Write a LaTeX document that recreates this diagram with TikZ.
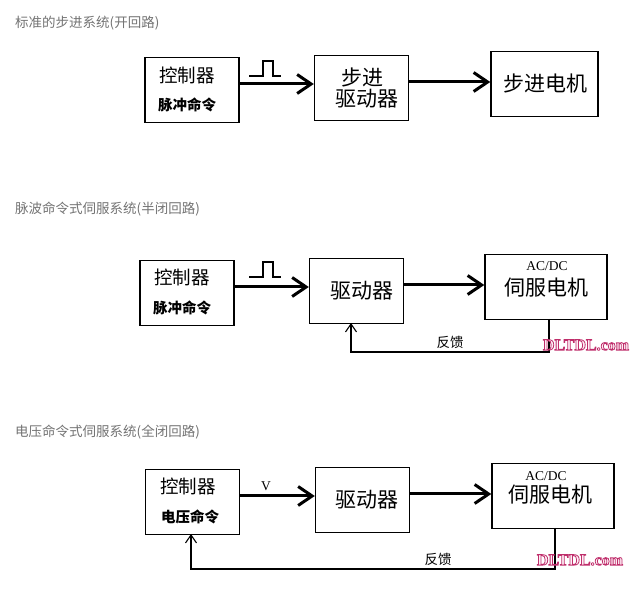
\documentclass[tikz,border=0pt]{standalone}
\usepackage{fontspec}
\usetikzlibrary{arrows.meta}
\setmainfont{Liberation Serif}
\newfontfamily\cjk{Noto Sans CJK SC}
\newcommand{\outlined}[1]{\special{pdf:literal direct 2 Tr 0.8 w 0.75 0.18 0.42 RG 1 0.93 0.96 rg}#1\special{pdf:literal direct 0 Tr 0 0 0 RG 0 0 0 rg}}
\tikzset{
box/.style={draw,line width=1.4pt,minimum width=94pt,minimum height=65pt,inner sep=0pt},
bigbox/.style={box,minimum width=122pt},
thick arrow/.style={line width=3pt,-{Straight Barb[length=14pt,width=19pt,line width=3pt]}},
thin arrow/.style={line width=1.1pt,-{Straight Barb[length=8pt,width=11pt,line width=1.1pt]}},
thinner arrow/.style={thin arrow,line width=1.5pt},
pulse/.style={line width=1.3pt},
title/.style={anchor=west,inner sep=0pt,text=black!55,font=\cjk\fontsize{13.5}{14}\selectfont},
big/.style={inner sep=0pt,font=\cjk\fontsize{21}{23}\selectfont},
mid/.style={inner sep=0pt,font=\cjk\fontsize{18.5}{20}\selectfont},
small/.style={inner sep=0pt,font=\cjk\bfseries\fontsize{14.5}{16}\selectfont},
tiny/.style={inner sep=0pt,font=\fontsize{13.5}{15}\selectfont},
fb/.style={inner sep=0pt,font=\cjk\fontsize{13.5}{15}\selectfont},
mark text/.style={inner sep=0pt,font=\bfseries\fontsize{16}{18}\selectfont}
}
\begin{document}
\begin{tikzpicture}[x=1pt,y=-1pt]
\useasboundingbox (0,0) rectangle (643,601);
\node[title] (titleA) at (15,23) {标准的步进系统(开回路)};
\node[title] (titleB) at (15,209) {脉波命令式伺服系统(半闭回路)};
\node[title] (titleC) at (15,432) {电压命令式伺服系统(全闭回路)};

% open loop
\node[box] (ctrlA) at (192,90) {};
\node[box] (drvA) at (361.5,88) {};
\node[box,minimum width=107pt] (motA) at (544.5,84) {};
\node[mid] (ctrlAa) at (187,75) {控制器};
\node[small] (ctrlAb) at (187,105) {脉冲命令};
\node[big] (drvAa) at (362,77) {步进};
\node[big] (drvAb) at (367,99) {驱动器};
\node[big] (motAa) at (545,84) {步进电机};
\coordinate (inA) at (ctrlA.east|-0,84);
\coordinate (inB) at (drvA.west|-0,84);
\draw[thick arrow] (inA)--(inB);
\coordinate (outA) at (drvA.east|-0,82);
\coordinate (outB) at (motA.west|-0,82);
\draw[thick arrow] (outA)--(outB);
\draw[pulse] (249,76)--(263,76)--(263,61)--(273,61)--(273,76)--(281,76);

% half closed loop
\node[box] (ctrlB) at (187,293) {};
\node[box] (drvB) at (356.5,291) {};
\node[bigbox] (motB) at (546,287) {};
\node[mid] (ctrlBa) at (182,277) {控制器};
\node[small] (ctrlBb) at (182,308) {脉冲命令};
\node[big] (drvBa) at (362,291) {驱动器};
\node[tiny] (motBa) at (547,266) {AC/DC};
\node[big] (motBb) at (546,288) {伺服电机};
\coordinate (inC) at (ctrlB.east|-0,287);
\coordinate (inD) at (drvB.west|-0,287);
\draw[thick arrow] (inC)--(inD);
\coordinate (outC) at (drvB.east|-0,285);
\coordinate (outD) at (motB.west|-0,285);
\draw[thick arrow] (outC)--(outD);
\draw[pulse] (249,277)--(263,277)--(263,262)--(273,262)--(273,277)--(281,277);
\coordinate (fbA) at (549,319);
\coordinate (fbB) at (351,323);
\draw[thin arrow] (fbA)--(549,352)--(351,352)--(fbB);
\node[fb] (fbLabelA) at (450,342) {反馈};
\node[mark text] (markA) at (586,345) {\outlined{DLTDL.com}};

% closed loop
\node[box] (ctrlC) at (192.5,502) {};
\node[box] (drvC) at (362.5,500) {};
\node[bigbox] (motC) at (553,496) {};
\node[mid] (ctrlCa) at (188,486) {控制器};
\node[small] (ctrlCb) at (190,517) {电压命令};
\node[big] (drvCa) at (367,500) {驱动器};
\node[tiny] (motCa) at (546,476) {AC/DC};
\node[big] (motCb) at (550,495) {伺服电机};
\node[tiny] (vLabel) at (266,486) {V};
\coordinate (inE) at (ctrlC.east|-0,496);
\coordinate (inF) at (drvC.west|-0,496);
\draw[thick arrow] (inE)--(inF);
\coordinate (outE) at (drvC.east|-0,494);
\coordinate (outF) at (motC.west|-0,494);
\draw[thick arrow] (outE)--(outF);
\coordinate (fbC) at (555,528);
\coordinate (fbD) at (191,534);
\draw[thinner arrow] (fbC)--(555,569)--(191,569)--(fbD);
\node[fb] (fbLabelB) at (438,559) {反馈};
\node[mark text] (markB) at (580,560) {\outlined{DLTDL.com}};
\end{tikzpicture}
\end{document}
